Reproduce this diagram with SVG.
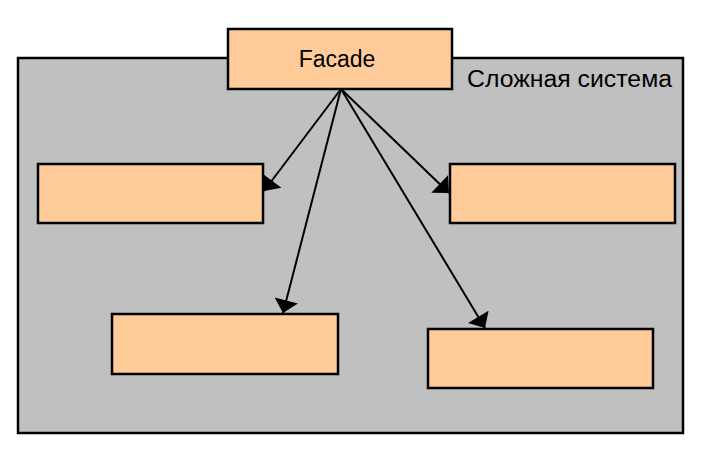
<svg xmlns="http://www.w3.org/2000/svg" width="701" height="455" viewBox="0 0 701 455">
<style>
.sys{fill:#c0c0c0;stroke:#000;stroke-width:2.5}
.box{fill:#ffcc99;stroke:#000;stroke-width:2.5}
.lbl{font-family:"Liberation Sans",Arial,sans-serif;fill:#000}
.con{stroke:#000;stroke-width:2;fill:none;marker-end:url(#arr)}
</style>
<defs>
<marker id="arr" markerUnits="userSpaceOnUse" viewBox="-14 -12 14 24" refX="0" refY="0" markerWidth="14" markerHeight="24" orient="auto">
<path d="M-13,-12 L0,0 L-13,12 z" fill="#000"/>
</marker>
</defs>
<g id="system">
<rect class="sys" x="18" y="58" width="665" height="375"/>
<text class="lbl" x="467" y="87" font-size="23" textLength="205" lengthAdjust="spacingAndGlyphs">Сложная система</text>
</g>
<g id="connectors">
<line class="con" x1="341" y1="89" x2="264" y2="191"/>
<line class="con" x1="341" y1="89" x2="449" y2="193"/>
<line class="con" x1="341" y1="89" x2="283" y2="313"/>
<line class="con" x1="341" y1="89" x2="485" y2="328"/>
</g>
<g id="facade">
<rect class="box" x="228" y="29" width="224" height="60"/>
<text class="lbl" x="337" y="67" font-size="23" text-anchor="middle">Facade</text>
</g>
<g id="sub1"><rect class="box" x="38" y="164" width="225" height="59"/></g>
<g id="sub2"><rect class="box" x="450" y="164" width="225" height="59"/></g>
<g id="sub3"><rect class="box" x="112" y="314" width="226" height="60"/></g>
<g id="sub4"><rect class="box" x="428" y="329" width="225" height="59"/></g>
</svg>
